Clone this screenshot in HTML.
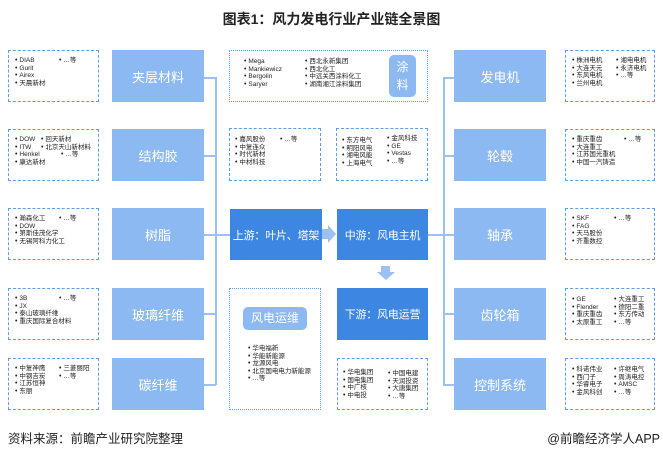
<!DOCTYPE html>
<html><head><meta charset="utf-8"><style>
*{margin:0;padding:0;box-sizing:border-box}
body{width:663px;height:457px;background:#fff;position:relative;overflow:hidden;font-family:"Liberation Sans","Noto Sans CJK SC",sans-serif}
.a{position:absolute}
.lb{position:absolute;background:#8cb9f1;color:#fff;font-size:13px;display:flex;align-items:center;justify-content:center}
.db{position:absolute;background:#3d86e2;color:#fff;font-size:11px;display:flex;align-items:center;justify-content:center;white-space:nowrap;letter-spacing:-0.2px}
.dash{position:absolute;border:1.5px dashed #5f9be6;font-size:6.5px;line-height:7.5px;color:#222}
.dot{border-style:dotted}
.c{position:absolute;white-space:nowrap}
.c div:before{content:"• ";font-size:7px}
.ln{position:absolute;background:#9cc1f0}
</style></head><body>
<div class="a" style="left:0;top:9px;width:663px;text-align:center;font-size:14px;font-weight:bold;color:#222">图表1：风力发电行业产业链全景图</div>

<div class="ln" style="left:215px;top:77px;width:1.5px;height:308px"></div>
<div class="ln" style="left:204px;top:77px;width:12px;height:1.5px"></div>
<div class="ln" style="left:204px;top:155px;width:12px;height:1.5px"></div>
<div class="ln" style="left:204px;top:234px;width:26px;height:1.5px"></div>
<div class="ln" style="left:204px;top:313px;width:12px;height:1.5px"></div>
<div class="ln" style="left:204px;top:384px;width:12px;height:1.5px"></div>
<div class="ln" style="left:443px;top:77px;width:1.5px;height:308px"></div>
<div class="ln" style="left:443px;top:77px;width:12px;height:1.5px"></div>
<div class="ln" style="left:443px;top:155px;width:12px;height:1.5px"></div>
<div class="ln" style="left:428px;top:234px;width:27px;height:1.5px"></div>
<div class="ln" style="left:443px;top:313px;width:12px;height:1.5px"></div>
<div class="ln" style="left:443px;top:384px;width:12px;height:1.5px"></div>

<div class="dash" style="left:8px;top:50px;width:91px;height:52px"><div class="c" style="left:6px;top:6px"><div>DIAB</div><div>Gurit</div><div>Airex</div><div>天晨新材</div></div><div class="c" style="left:50px;top:6px"><div>…等</div></div></div>
<div class="dash" style="left:8px;top:129px;width:91px;height:52px"><div class="c" style="left:6px;top:6px"><div>DOW</div><div>ITW</div><div>Henkel</div><div>康达新材</div></div><div class="c" style="left:32px;top:6px"><div>回天新材</div><div>北京天山新材料</div></div><div class="c" style="left:52px;top:21px"><div>…等</div></div></div>
<div class="dash" style="left:8px;top:208px;width:91px;height:52px"><div class="c" style="left:6px;top:6px"><div>瀚森化工</div><div>DOW</div><div>第斯佳茂化学</div><div>无锡阿科力化工</div></div><div class="c" style="left:50px;top:6px"><div>…等</div></div></div>
<div class="dash" style="left:8px;top:288px;width:91px;height:52px"><div class="c" style="left:6px;top:6px"><div>3B</div><div>JX</div><div>泰山玻璃纤维</div><div>重庆国际复合材料</div></div><div class="c" style="left:50px;top:6px"><div>…等</div></div></div>
<div class="dash" style="left:8px;top:358px;width:91px;height:52px"><div class="c" style="left:6px;top:6px"><div>中复神鹰</div><div>中钢吉炭</div><div>江苏恒神</div><div>东丽</div></div><div class="c" style="left:50px;top:6px"><div>三菱丽阳</div><div>…等</div></div></div>

<div class="lb" style="left:112px;top:50px;width:92px;height:52px">夹层材料</div>
<div class="lb" style="left:112px;top:129px;width:92px;height:52px">结构胶</div>
<div class="lb" style="left:112px;top:208px;width:92px;height:52px">树脂</div>
<div class="lb" style="left:112px;top:288px;width:92px;height:52px">玻璃纤维</div>
<div class="lb" style="left:112px;top:358px;width:92px;height:52px">碳纤维</div>

<div class="dash dot" style="left:229px;top:50px;width:199px;height:52px"><div class="c" style="left:14px;top:7px"><div>Mega</div><div>Mankiewicz</div><div>Bergolin</div><div>Saryer</div></div><div class="c" style="left:75px;top:7px"><div>西北永新集团</div><div>西北化工</div><div>中远关西涂料化工</div><div>湖南湘江涂料集团</div></div></div>
<div class="a" style="left:389px;top:55px;width:27px;height:42px;background:#8cb9f1;border-radius:5px;color:#fff;font-size:12px;text-align:center;line-height:18px;padding-top:3px">涂<br>料</div>
<div class="dash" style="left:229px;top:128px;width:92px;height:53px"><div class="c" style="left:5px;top:7px"><div>嘉风股份</div><div>中复连众</div><div>时代新材</div><div>中材科技</div></div><div class="c" style="left:50px;top:7px"><div>…等</div></div></div>
<div class="dash" style="left:336px;top:128px;width:92px;height:53px"><div class="c" style="left:5px;top:8px"><div>东方电气</div><div>明阳风电</div><div>湘电风能</div><div>上海电气</div></div><div class="c" style="left:50px;top:6px"><div>金风科技</div><div>GE</div><div>Vestas</div><div>…等</div></div></div>
<div class="db" style="left:230px;top:209px;width:92px;height:51px">上游：叶片、塔架</div>
<div class="db" style="left:337px;top:209px;width:91px;height:51px">中游：风电主机</div>
<div class="a" style="left:322px;top:229px;width:8px;height:10px;background:#9cc1f0"></div>
<div class="a" style="left:328px;top:225px;width:0;height:0;border-top:9px solid transparent;border-bottom:9px solid transparent;border-left:8px solid #9cc1f0"></div>
<div class="a" style="left:381px;top:266px;width:9px;height:7px;background:#9cc1f0"></div>
<div class="a" style="left:377px;top:272px;width:0;height:0;border-left:9px solid transparent;border-right:9px solid transparent;border-top:8px solid #9cc1f0"></div>
<div class="db" style="left:337px;top:288px;width:91px;height:52px">下游：风电运营</div>
<div class="dash dot" style="left:229px;top:288px;width:92px;height:122px"><div class="c" style="left:18px;top:56px"><div>华电福新</div><div>华能新能源</div><div>龙源风电</div><div>北京国电电力新能源</div><div>…等</div></div></div>
<div class="a" style="left:243px;top:307px;width:64px;height:23px;background:#8cb9f1;border-radius:5px;color:#fff;font-size:12px;text-align:center;line-height:23px">风电运维</div>
<div class="dash" style="left:337px;top:358px;width:91px;height:52px"><div class="c" style="left:5px;top:10px"><div>华电集团</div><div>国电集团</div><div>中广核</div><div>中电投</div></div><div class="c" style="left:50px;top:11px"><div>中国电建</div><div>天润投资</div><div>大唐集团</div><div>…等</div></div></div>

<div class="lb" style="left:454px;top:50px;width:92px;height:52px">发电机</div>
<div class="lb" style="left:454px;top:129px;width:92px;height:52px">轮毂</div>
<div class="lb" style="left:454px;top:208px;width:92px;height:52px">轴承</div>
<div class="lb" style="left:454px;top:288px;width:92px;height:52px">齿轮箱</div>
<div class="lb" style="left:454px;top:358px;width:92px;height:52px">控制系统</div>
<div class="dash" style="left:565px;top:50px;width:90px;height:52px"><div class="c" style="left:6px;top:6px"><div>株洲电机</div><div>大连天元</div><div>东风电机</div><div>兰州电机</div></div><div class="c" style="left:50px;top:6px"><div>湘电电机</div><div>永济电机</div><div>…等</div></div></div>
<div class="dash" style="left:565px;top:129px;width:90px;height:52px"><div class="c" style="left:6px;top:6px"><div>重庆重齿</div><div>大连重工</div><div>江苏国光重机</div><div>中国一汽铸造</div></div><div class="c" style="left:58px;top:6px"><div>…等</div></div></div>
<div class="dash" style="left:565px;top:208px;width:90px;height:52px"><div class="c" style="left:6px;top:6px"><div>SKF</div><div>FAG</div><div>天马股份</div><div>齐重数控</div></div><div class="c" style="left:48px;top:6px"><div>…等</div></div></div>
<div class="dash" style="left:565px;top:288px;width:90px;height:52px"><div class="c" style="left:6px;top:7px"><div>GE</div><div>Flender</div><div>重庆重齿</div><div>太原重工</div></div><div class="c" style="left:48px;top:7px"><div>大连重工</div><div>德阳二重</div><div>东方传动</div><div>…等</div></div></div>
<div class="dash" style="left:565px;top:358px;width:90px;height:52px"><div class="c" style="left:6px;top:7px"><div>科诺伟业</div><div>西门子</div><div>华睿电子</div><div>金风科创</div></div><div class="c" style="left:48px;top:7px"><div>许继电气</div><div>周涛电控</div><div>AMSC</div><div>…等</div></div></div>

<div class="a" style="left:8px;top:428px;font-size:12.5px;color:#222">资料来源：前瞻产业研究院整理</div>
<div class="a" style="right:3px;top:428px;font-size:12.5px;color:#222">@前瞻经济学人APP</div>
</body></html>
